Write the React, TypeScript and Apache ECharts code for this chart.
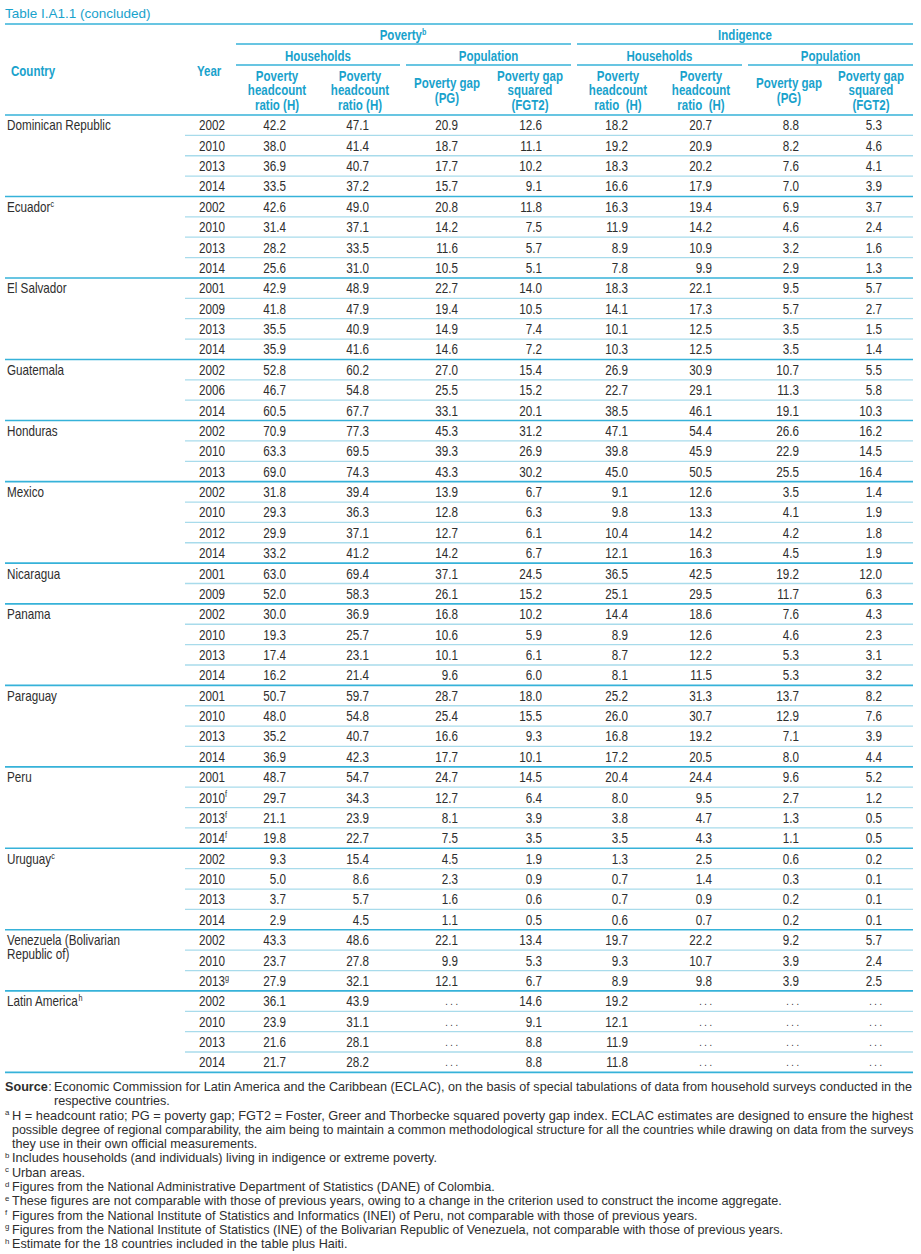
import { useEffect, useRef } from 'react';
import * as echarts from 'echarts';

// table content
const title = 'Table I.A1.1 (concluded)';
const countries = [
  'Dominican Republic', 'Ecuador', 'El Salvador', 'Guatemala', 'Honduras', 'Mexico', 'Nicaragua',
  'Panama', 'Paraguay', 'Peru', 'Uruguay', 'Venezuela (Bolivarian\nRepublic of)', 'Latin America',
];
const countryNotes = ['', 'c', '', '', '', '', '', '', '', '', 'c', '', 'h'];
const countryYears = [
  ['2002', '2010', '2013', '2014'],
  ['2002', '2010', '2013', '2014'],
  ['2001', '2009', '2013', '2014'],
  ['2002', '2006', '2014'],
  ['2002', '2010', '2013'],
  ['2002', '2010', '2012', '2014'],
  ['2001', '2009'],
  ['2002', '2010', '2013', '2014'],
  ['2001', '2010', '2013', '2014'],
  ['2001', '2010f', '2013f', '2014f'],
  ['2002', '2010', '2013', '2014'],
  ['2002', '2010', '2013g'],
  ['2002', '2010', '2013', '2014'],
];

// poverty, households
const povHhH1 = [
  42.2, 38.0, 36.9, 33.5, 42.6, 31.4, 28.2, 25.6, 42.9, 41.8, 35.5, 35.9, 52.8, 46.7, 60.5,
  70.9, 63.3, 69.0, 31.8, 29.3, 29.9, 33.2, 63.0, 52.0, 30.0, 19.3, 17.4, 16.2,
  50.7, 48.0, 35.2, 36.9, 48.7, 29.7, 21.1, 19.8, 9.3, 5.0, 3.7, 2.9, 43.3, 23.7, 27.9,
  36.1, 23.9, 21.6, 21.7,
];
const povHhH2 = [
  47.1, 41.4, 40.7, 37.2, 49.0, 37.1, 33.5, 31.0, 48.9, 47.9, 40.9, 41.6, 60.2, 54.8, 67.7,
  77.3, 69.5, 74.3, 39.4, 36.3, 37.1, 41.2, 69.4, 58.3, 36.9, 25.7, 23.1, 21.4,
  59.7, 54.8, 40.7, 42.3, 54.7, 34.3, 23.9, 22.7, 15.4, 8.6, 5.7, 4.5, 48.6, 27.8, 32.1,
  43.9, 31.1, 28.1, 28.2,
];
// poverty, population
const povPopPG = [
  20.9, 18.7, 17.7, 15.7, 20.8, 14.2, 11.6, 10.5, 22.7, 19.4, 14.9, 14.6, 27.0, 25.5, 33.1,
  45.3, 39.3, 43.3, 13.9, 12.8, 12.7, 14.2, 37.1, 26.1, 16.8, 10.6, 10.1, 9.6,
  28.7, 25.4, 16.6, 17.7, 24.7, 12.7, 8.1, 7.5, 4.5, 2.3, 1.6, 1.1, 22.1, 9.9, 12.1,
  null, null, null, null,
];
const povPopFGT2 = [
  12.6, 11.1, 10.2, 9.1, 11.8, 7.5, 5.7, 5.1, 14.0, 10.5, 7.4, 7.2, 15.4, 15.2, 20.1,
  31.2, 26.9, 30.2, 6.7, 6.3, 6.1, 6.7, 24.5, 15.2, 10.2, 5.9, 6.1, 6.0,
  18.0, 15.5, 9.3, 10.1, 14.5, 6.4, 3.9, 3.5, 1.9, 0.9, 0.6, 0.5, 13.4, 5.3, 6.7,
  14.6, 9.1, 8.8, 8.8,
];
// indigence, households
const indHhH1 = [
  18.2, 19.2, 18.3, 16.6, 16.3, 11.9, 8.9, 7.8, 18.3, 14.1, 10.1, 10.3, 26.9, 22.7, 38.5,
  47.1, 39.8, 45.0, 9.1, 9.8, 10.4, 12.1, 36.5, 25.1, 14.4, 8.9, 8.7, 8.1,
  25.2, 26.0, 16.8, 17.2, 20.4, 8.0, 3.8, 3.5, 1.3, 0.7, 0.7, 0.6, 19.7, 9.3, 8.9,
  19.2, 12.1, 11.9, 11.8,
];
const indHhH2 = [
  20.7, 20.9, 20.2, 17.9, 19.4, 14.2, 10.9, 9.9, 22.1, 17.3, 12.5, 12.5, 30.9, 29.1, 46.1,
  54.4, 45.9, 50.5, 12.6, 13.3, 14.2, 16.3, 42.5, 29.5, 18.6, 12.6, 12.2, 11.5,
  31.3, 30.7, 19.2, 20.5, 24.4, 9.5, 4.7, 4.3, 2.5, 1.4, 0.9, 0.7, 22.2, 10.7, 9.8,
  null, null, null, null,
];
// indigence, population
const indPopPG = [
  8.8, 8.2, 7.6, 7.0, 6.9, 4.6, 3.2, 2.9, 9.5, 5.7, 3.5, 3.5, 10.7, 11.3, 19.1,
  26.6, 22.9, 25.5, 3.5, 4.1, 4.2, 4.5, 19.2, 11.7, 7.6, 4.6, 5.3, 5.3,
  13.7, 12.9, 7.1, 8.0, 9.6, 2.7, 1.3, 1.1, 0.6, 0.3, 0.2, 0.2, 9.2, 3.9, 3.9,
  null, null, null, null,
];
const indPopFGT2 = [
  5.3, 4.6, 4.1, 3.9, 3.7, 2.4, 1.6, 1.3, 5.7, 2.7, 1.5, 1.4, 5.5, 5.8, 10.3,
  16.2, 14.5, 16.4, 1.4, 1.9, 1.8, 1.9, 12.0, 6.3, 4.3, 2.3, 3.1, 3.2,
  8.2, 7.6, 3.9, 4.4, 5.2, 1.2, 0.5, 0.5, 0.2, 0.1, 0.1, 0.1, 5.7, 2.4, 2.5,
  null, null, null, null,
];
const valueColumns = [povHhH1, povHhH2, povPopPG, povPopFGT2, indHhH1, indHhH2, indPopPG, indPopFGT2];

const columnHeads = [
  'Poverty\nheadcount\nratio (H)', 'Poverty\nheadcount\nratio (H)', 'Poverty gap\n(PG)', 'Poverty gap\nsquared\n(FGT2)',
  'Poverty\nheadcount\nratio  (H)', 'Poverty\nheadcount\nratio  (H)', 'Poverty gap\n(PG)', 'Poverty gap\nsquared\n(FGT2)',
];

const sourceLines = [
  'Economic Commission for Latin America and the Caribbean (ECLAC), on the basis of special tabulations of data from household surveys conducted in the',
  'respective countries.',
];
const footMarks = ['a', '', '', 'b', 'c', 'd', 'e', 'f', 'g', 'h'];
const footLines = [
  'H = headcount ratio; PG = poverty gap; FGT2 = Foster, Greer and Thorbecke squared poverty gap index. ECLAC estimates are designed to ensure the highest',
  'possible degree of regional comparability, the aim being to maintain a common methodological structure for all the countries while drawing on data from the surveys',
  'they use in their own official measurements.',
  'Includes households (and individuals) living in indigence or extreme poverty.',
  'Urban areas.',
  'Figures from the National Administrative Department of Statistics (DANE) of Colombia.',
  'These figures are not comparable with those of previous years, owing to a change in the criterion used to construct the income aggregate.',
  'Figures from the National Institute of Statistics and Informatics (INEI) of Peru, not comparable with those of previous years.',
  'Figures from the National Institute of Statistics (INE) of the Bolivarian Republic of Venezuela, not comparable with those of previous years.',
  'Estimate for the 18 countries included in the table plus Haiti.',
];
const justifiedFoot = [true, true, false, false, false, false, false, false, false, false];

// a regular sans, squeezed horizontally to stand in for the condensed face
const FONT = '"Liberation Sans", Arial, sans-serif';
const CYAN = '#19a2cc';
const LINE = '#36b2d9';
const LIGHT = '#a8dbeb';
const INK = '#2e2e2e';

const W = 921;
const H = 1254;
const LEFT = 5;
const RIGHT = 913;
const TOP = 115;
const ROW_H = 20.37;
const ROWLINE_X = 185;
const YEAR_X = 199;
const COL_RIGHT = [286, 369, 458, 542, 628, 712, 799, 882];
const COL_CENTER = [277, 360, 447, 530, 618, 701, 789, 871];
const BODY_FS = 14;
const HEAD_FS = 14;
const FOOT_FS = 12.2;

function measure(text: string, font: string) {
  const ctx = document.createElement('canvas').getContext('2d');
  if (!ctx) return 0;
  ctx.font = font;
  return ctx.measureText(text).width;
}

function ratio(target: number, text: string, font: string, fallback: number) {
  const w = measure(text, font);
  return w > 0 ? target / w : fallback;
}

function sup(size: number, weight: string, fill: string) {
  return {
    m: { fontSize: size, fontFamily: FONT, fontWeight: weight, fill, lineHeight: size + 1 },
    s: { fontSize: size * 0.62, fontFamily: FONT, fontWeight: weight, fill, lineHeight: size * 0.62, verticalAlign: 'top' as const },
  };
}

function buildGraphics() {
  const bodyScale = ratio(104, 'Dominican Republic', `${BODY_FS}px ${FONT}`, 0.82);
  const headScale = ratio(66, 'Households', `bold ${HEAD_FS}px ${FONT}`, 0.82);
  const footScale = ratio(425, footLines[3], `${FOOT_FS}px ${FONT}`, 0.9);

  const els: any[] = [];
  const line = (x1: number, y1: number, x2: number, y2: number, stroke: string, w = 1.3) =>
    els.push({ type: 'line', silent: true, shape: { x1, y1, x2, y2 }, style: { stroke, lineWidth: w } });
  const text = (x: number, y: number, t: string, style: any = {}, sx = bodyScale) =>
    els.push({
      type: 'text', silent: true, x, y, scaleX: sx,
      style: { text: t, fontFamily: FONT, fontSize: BODY_FS, fill: INK, align: 'left', verticalAlign: 'middle', ...style },
    });
  const noted = (x: number, y: number, main: string, note: string, style: any = {}, size = BODY_FS, weight = 'normal', fill = INK, sx = bodyScale) => {
    if (!note) return text(x, y, main, { fontSize: size, fontWeight: weight, fill, ...style }, sx);
    text(x, y, `{m|${main}}{s|${note}}`, { rich: sup(size, weight, fill), ...style }, sx);
  };

  // title and header
  text(LEFT, 13, title, { fontSize: 13.5, fill: CYAN }, 1);
  line(LEFT, 24, RIGHT, 24, LINE, 1.6);
  const hd = { fontWeight: 'bold', fill: CYAN, fontSize: HEAD_FS };
  noted(403, 35, 'Poverty', 'b', { align: 'center' }, HEAD_FS, 'bold', CYAN, headScale);
  text(745, 35, 'Indigence', { ...hd, align: 'center' }, headScale);
  line(236, 44, 571, 44, LINE);
  line(577, 44, RIGHT, 44, LINE);
  const groupSpans = [[236, 400], [406, 571], [577, 742], [748, RIGHT]];
  ['Households', 'Population', 'Households', 'Population'].forEach((g, i) => {
    const [a, b] = groupSpans[i];
    text((a + b) / 2, 56, g, { ...hd, align: 'center' }, headScale);
    line(a, 65, b, 65, LINE);
  });
  text(11, 71, 'Country', hd, headScale);
  text(197, 71, 'Year', hd, headScale);
  columnHeads.forEach((h, i) => {
    text(COL_CENTER[i], 90.5, h, { ...hd, align: 'center', lineHeight: 14.5 }, headScale);
  });
  line(LEFT, TOP, RIGHT, TOP, LINE, 1.6);

  // body rows
  let r = 0;
  countries.forEach((name, ci) => {
    const years = countryYears[ci];
    const firstMid = TOP + r * ROW_H + 10.5;
    const nameLines = name.split('\n');
    nameLines.forEach((nl, li) => {
      const note = li === nameLines.length - 1 ? countryNotes[ci] : '';
      noted(7, firstMid + li * 14, nl, note);
    });
    years.forEach((yr, yi) => {
      const mid = TOP + r * ROW_H + 10.5;
      noted(YEAR_X, mid, yr.slice(0, 4), yr.slice(4));
      valueColumns.forEach((col, k) => {
        const v = col[r];
        text(COL_RIGHT[k], mid, v == null ? '. . .' : v.toFixed(1), { align: 'right', fontSize: v == null ? 11 : BODY_FS });
      });
      const bottom = TOP + (r + 1) * ROW_H;
      if (yi === years.length - 1) line(LEFT, bottom, RIGHT, bottom, LINE, 1.6);
      else line(ROWLINE_X, bottom, RIGHT, bottom, LIGHT, 1.3);
      r++;
    });
  });

  // source and notes
  const PITCH = 14.3;
  const fontStr = `${FOOT_FS}px ${FONT}`;
  const srcW = measure('Source', `bold ${FOOT_FS}px ${FONT}`) * footScale;
  text(LEFT, 1087, 'Source', { fontSize: FOOT_FS, fontWeight: 'bold' }, footScale);
  text(LEFT + srcW + 0.5, 1087, ':', { fontSize: FOOT_FS }, footScale);
  text(54, 1087, sourceLines[0], { fontSize: FOOT_FS }, ratio(RIGHT - 54, sourceLines[0], fontStr, footScale));
  text(54, 1087 + PITCH, sourceLines[1], { fontSize: FOOT_FS }, footScale);
  footLines.forEach((fl, i) => {
    const y = 1087 + (i + 2) * PITCH;
    if (footMarks[i]) text(LEFT, y - 3, footMarks[i], { fontSize: FOOT_FS * 0.62 }, footScale);
    const sx = justifiedFoot[i] ? ratio(RIGHT - 12, fl, fontStr, footScale) : footScale;
    text(12, y, fl, { fontSize: FOOT_FS }, sx);
  });
  return els;
}

export default function App() {
  const ref = useRef<HTMLDivElement>(null);
  useEffect(() => {
    if (!ref.current) return;
    const chart = echarts.init(ref.current, undefined, { renderer: 'svg', width: W, height: H });
    chart.setOption({ animation: false, backgroundColor: '#ffffff', graphic: { elements: buildGraphics() } });
    return () => chart.dispose();
  }, []);
  return <div ref={ref} style={{ position: 'absolute', left: 0, top: 0, width: W, height: H }} />;
}
